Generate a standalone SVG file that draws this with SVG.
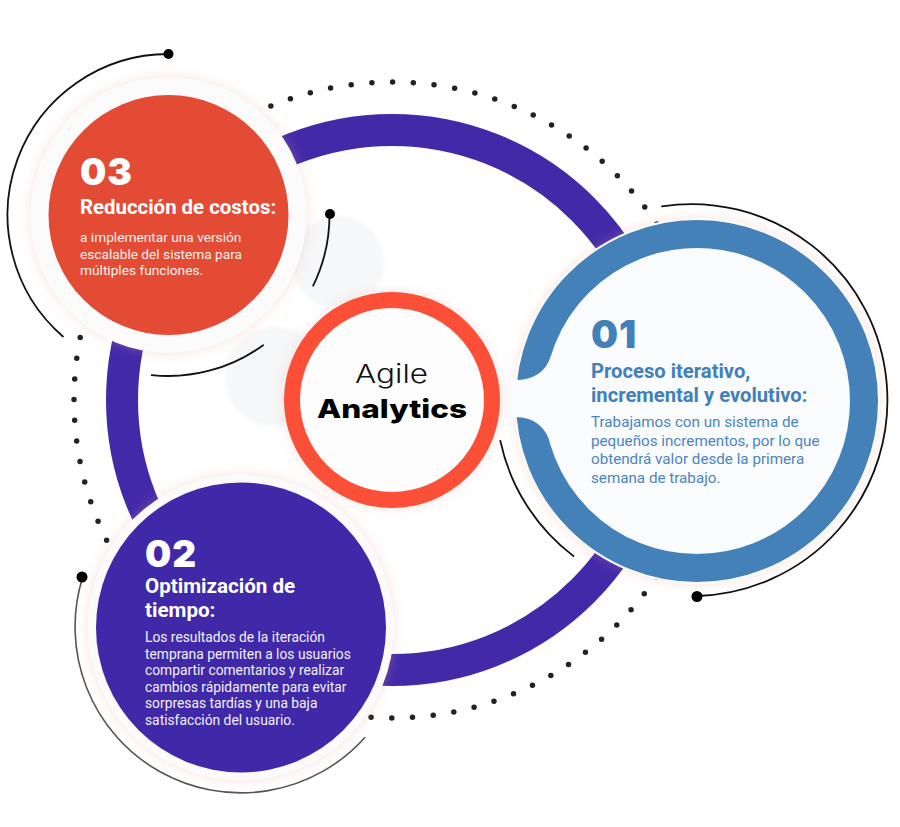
<svg xmlns="http://www.w3.org/2000/svg" width="900" height="827" viewBox="0 0 900 827">
<style>
.arc{fill:none;stroke:#111;stroke-width:1.8;stroke-linecap:round}
.dot{fill:#000}
.num{font-family:Inter,"Liberation Sans",sans-serif;font-weight:900;letter-spacing:1px}
.ttl{font-family:Roboto,"Liberation Sans",sans-serif;font-weight:700}
.body{font-family:Roboto,"Liberation Sans",sans-serif;font-weight:400}
.halo{fill:#fbfbfb;filter:url(#sh)}
</style>
<defs>
<filter id="sh" x="-20%" y="-20%" width="140%" height="140%">
<feDropShadow dx="0" dy="0" stdDeviation="6" flood-color="#e9a090" flood-opacity="0.3"/>
</filter>
<filter id="blur" x="-30%" y="-30%" width="160%" height="160%">
<feGaussianBlur stdDeviation="2"/>
</filter>
</defs>
<rect width="900" height="827" fill="#ffffff"/>

<g id="connectors">
<circle cx="392" cy="400" r="318" fill="none" stroke="#222" stroke-width="5.5" stroke-linecap="round" stroke-dasharray="0 20.8131"/>
<circle cx="392" cy="400" r="270" fill="none" stroke="#4229a8" stroke-width="32"/>
<circle cx="338" cy="262" r="46" fill="#f6f7f8" filter="url(#blur)"/>
<circle cx="275" cy="377" r="50" fill="#f6f7f8" filter="url(#blur)"/>
</g>

<g id="node-03">
<circle class="halo" cx="168.5" cy="215" r="138"/>
<circle cx="168.5" cy="215" r="120" fill="#e34b35"/>
<text class="num" x="80" y="185" font-size="37" fill="#fff">03</text>
<text class="ttl" x="80" y="214" font-size="20.4" fill="#fff">Reducción de costos:</text>
<text class="body" font-size="13.7" fill="#fff2ee">
<tspan x="80" y="242">a implementar una versión</tspan>
<tspan x="80" y="258.5">escalable del sistema para</tspan>
<tspan x="80" y="275">múltiples funciones.</tspan>
</text>
</g>

<g id="node-02">
<circle class="halo" cx="241" cy="627.5" r="153"/>
<circle cx="241" cy="627.5" r="145" fill="#4029a8"/>
<text class="num" x="145" y="567" font-size="37" fill="#fff">02</text>
<text class="ttl" font-size="20.6" fill="#fff">
<tspan x="145" y="593">Optimización de</tspan>
<tspan x="145" y="617">tiempo:</tspan>
</text>
<text class="body" font-size="13.8" fill="#f4f2fb">
<tspan x="145" y="642">Los resultados de la iteración</tspan>
<tspan x="145" y="658.5">temprana permiten a los usuarios</tspan>
<tspan x="145" y="675">compartir comentarios y realizar</tspan>
<tspan x="145" y="691.5">cambios rápidamente para evitar</tspan>
<tspan x="145" y="708">sorpresas tardías y una baja</tspan>
<tspan x="145" y="724.5">satisfacción del usuario.</tspan>
</text>
</g>

<g id="node-01">
<circle class="halo" cx="697" cy="401" r="183"/>
<circle cx="697" cy="401" r="167" fill="#fafbfc" stroke="#4381b8" stroke-width="28"/>
<path d="M495,380 L515,380 Q543,380 551,356 L580,356 L580,445 L551,445 Q543,417 515,417 L495,417 Z" fill="#fafbfc"/>
<text class="num" x="591" y="348" font-size="38" fill="#4180b9">01</text>
<text class="ttl" font-size="20.2" fill="#4180b9">
<tspan x="591" y="378">Proceso iterativo,</tspan>
<tspan x="591" y="402">incremental y evolutivo:</tspan>
</text>
<text class="body" font-size="15.2" fill="#4a86bd">
<tspan x="591" y="427">Trabajamos con un sistema de</tspan>
<tspan x="591" y="445.5">pequeños incrementos, por lo que</tspan>
<tspan x="591" y="464">obtendrá valor desde la primera</tspan>
<tspan x="591" y="482.5">semana de trabajo.</tspan>
</text>
</g>

<g id="node-center">
<circle cx="392" cy="400" r="100" fill="#fdfdfd" stroke="#fb5039" stroke-width="16" filter="url(#sh)"/>
<text x="355" y="383" textLength="73" lengthAdjust="spacingAndGlyphs" font-family="Inter,'Liberation Sans',sans-serif" font-weight="300" font-size="26" fill="#111">Agile</text>
<text x="317" y="418" textLength="150" lengthAdjust="spacingAndGlyphs" font-family="Inter,'Liberation Sans',sans-serif" font-weight="800" font-size="26" fill="#000">Analytics</text>
</g>

<g id="arcs">
<path class="arc" d="M168.5,54 A161,161 0 0 0 62.9,336.5"/>
<path class="arc" d="M329.5,215 A161,161 0 0 1 313.2,285.6"/>
<path class="arc" d="M263.1,345.2 A161,161 0 0 1 151.7,375.1"/>
<circle class="dot" cx="168.5" cy="54" r="5"/>
<circle class="dot" cx="330" cy="214" r="5"/>
<path class="arc" d="M662,206.3 A196,196 0 1 1 697,596"/>
<path class="arc" d="M500.3,440.8 A196,196 0 0 0 573.5,556.1"/>
<circle class="dot" cx="697" cy="596.5" r="5.5"/>
<path d="M82.7,577.1 A166,166 0 0 0 365.1,737.2" fill="none" stroke="#555" stroke-width="1.6"/>
<circle class="dot" cx="82" cy="577" r="5.5"/>
</g>
</svg>
